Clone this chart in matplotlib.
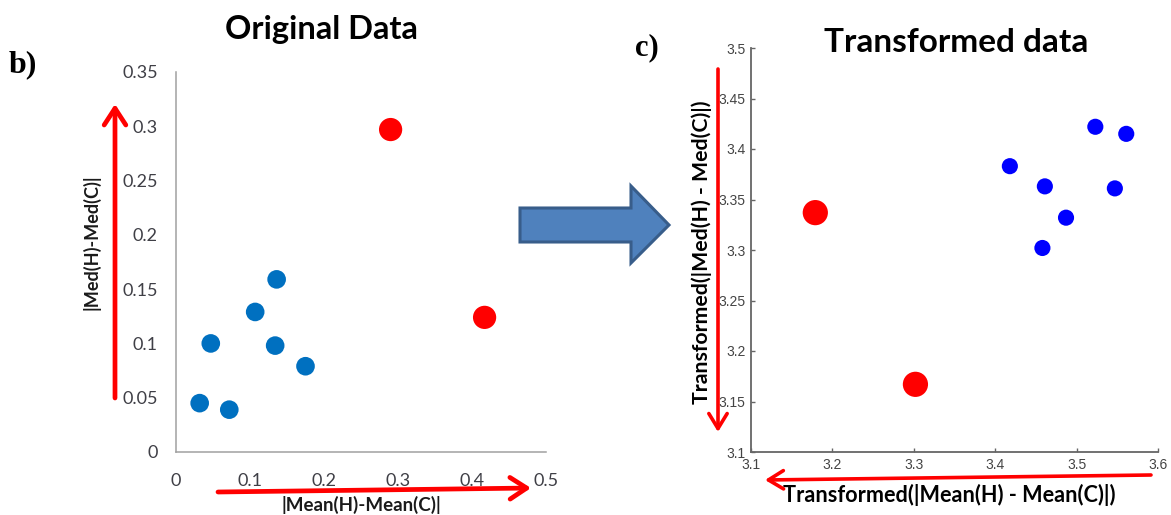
import numpy as np
import matplotlib
matplotlib.use("Agg")
import matplotlib.pyplot as plt
from matplotlib.patches import Polygon

# ---- data: panel b (original data) ----
orig_blue_x = [0.032, 0.072, 0.047, 0.107, 0.136, 0.134, 0.175]
orig_blue_y = [0.045, 0.039, 0.100, 0.129, 0.159, 0.098, 0.079]
orig_red_x = [0.290, 0.417]
orig_red_y = [0.297, 0.124]
orig_xticks = [0, 0.1, 0.2, 0.3, 0.4, 0.5]
orig_xlabels = ["0", "0.1", "0.2", "0.3", "0.4", "0.5"]
orig_yticks = [0, 0.05, 0.1, 0.15, 0.2, 0.25, 0.3, 0.35]
orig_ylabels = ["0", "0.05", "0.1", "0.15", "0.2", "0.25", "0.3", "0.35"]

# ---- data: panel c (transformed data) ----
trans_blue_x = [3.523, 3.561, 3.418, 3.461, 3.547, 3.487, 3.458]
trans_blue_y = [3.422, 3.415, 3.383, 3.363, 3.361, 3.332, 3.302]
trans_red_x = [3.179, 3.302]
trans_red_y = [3.337, 3.167]
trans_xticks = [3.1, 3.2, 3.3, 3.4, 3.5, 3.6]
trans_xlabels = ["3.1", "3.2", "3.3", "3.4", "3.5", "3.6"]
trans_yticks = [3.1, 3.15, 3.2, 3.25, 3.3, 3.35, 3.4, 3.45, 3.5]
trans_ylabels = ["3.1", "3.15", "3.2", "3.25", "3.3", "3.35", "3.4", "3.45", "3.5"]

W, H = 1171, 515
fig = plt.figure(figsize=(W / 100, H / 100), dpi=100)


def box(x0, y0, x1, y1):
    """pixel box (top-left origin) -> figure fraction rect"""
    return [x0 / W, 1 - y1 / H, (x1 - x0) / W, (y1 - y0) / H]


# ---- left panel, excel look ----
ax1 = fig.add_axes(box(176, 72, 546, 452))
ax1.scatter(orig_blue_x, orig_blue_y, s=180, color="#0070C0", edgecolors="none", zorder=3)
ax1.scatter(orig_red_x, orig_red_y, s=280, color="#FF0000", edgecolors="none", zorder=3)
ax1.set_xlim(0, 0.5)
ax1.set_ylim(0, 0.35)
ax1.set_xticks(orig_xticks)
ax1.set_xticklabels(orig_xlabels)
ax1.set_yticks(orig_yticks)
ax1.set_yticklabels(orig_ylabels)
for s in ["top", "right"]:
    ax1.spines[s].set_visible(False)
for s in ["left", "bottom"]:
    ax1.spines[s].set_color("#A0A0A0")
    ax1.spines[s].set_linewidth(1.1)
ax1.tick_params(length=0, pad=13, labelsize=13, labelcolor="#3F3F46")
ax1.tick_params(axis="x", pad=15)
for lab in ax1.get_xticklabels() + ax1.get_yticklabels():
    lab.set_family("Lato")

# ---- right panel, matlab look ----
ax2 = fig.add_axes(box(751, 48, 1158, 452))
ax2.scatter(trans_blue_x, trans_blue_y, s=135, color="#0000FF", edgecolors="none", zorder=3)
ax2.scatter(trans_red_x, trans_red_y, s=330, color="#FF0000", edgecolors="none", zorder=3)
ax2.set_xlim(3.1, 3.6)
ax2.set_ylim(3.1, 3.5)
ax2.set_xticks(trans_xticks)
ax2.set_xticklabels(trans_xlabels)
ax2.set_yticks(trans_yticks)
ax2.set_yticklabels(trans_ylabels)
for s in ["top", "right"]:
    ax2.spines[s].set_visible(False)
for s in ["left", "bottom"]:
    ax2.spines[s].set_color("#666666")
    ax2.spines[s].set_linewidth(1.3)
ax2.tick_params(direction="in", length=3, width=1, color="#666666",
                labelsize=10, labelcolor="#444444")
ax2.tick_params(axis="y", pad=4)
ax2.tick_params(axis="x", pad=4)
for lab in ax2.get_xticklabels() + ax2.get_yticklabels():
    lab.set_family("Liberation Sans")

# ---- overlay for titles, arrows, labels (pixel coords) ----
ov = fig.add_axes([0, 0, 1, 1])
ov.set_xlim(0, W)
ov.set_ylim(H, 0)
ov.axis("off")
ov.patch.set_alpha(0)

ov.text(321, 30, "Original Data", ha="center", va="center", fontsize=23.5,
        fontweight="bold", family="Lato")
ov.text(956, 43, "Transformed data", ha="center", va="center", fontsize=24,
        fontweight="bold", family="Lato")
ov.text(9, 72, "b)", ha="left", va="baseline", fontsize=23, fontweight="bold",
        family="Liberation Serif")
ov.text(635, 55, "c)", ha="left", va="baseline", fontsize=22, fontweight="bold",
        family="Liberation Serif")

ov.text(91, 242, "|Med(H)-Med(C)|", rotation=90, ha="center", va="center",
        fontsize=13, fontweight="bold", family="Lato", color="#1a1a1a")
ov.text(361, 505, "|Mean(H)-Mean(C)|", ha="center", va="center",
        fontsize=13.5, fontweight="bold", family="Lato", color="#1a1a1a")
ov.text(702, 252, "Transformed(|Med(H) - Med(C)|)", rotation=90, ha="center",
        va="center", fontsize=15.3, fontweight="bold", family="Lato")
ov.text(949, 495, "Transformed(|Mean(H) - Mean(C)|)", ha="center", va="center",
        fontsize=15.6, fontweight="bold", family="Lato")

red = "#FF0000"
arrow_thick = dict(arrowstyle="->,head_length=1.0,head_width=0.65", lw=3.4,
                   color=red, shrinkA=0, shrinkB=0, mutation_scale=12)
arrow_mid = dict(arrowstyle="->,head_length=0.9,head_width=0.55", lw=2.6,
                 color=red, shrinkA=0, shrinkB=0, mutation_scale=12)
ov.annotate("", xy=(115, 104), xytext=(115, 398), arrowprops=arrow_thick)
ov.annotate("", xy=(531, 488), xytext=(218, 492), arrowprops=arrow_thick)
ov.annotate("", xy=(718, 432), xytext=(718, 69), arrowprops=arrow_mid)
ov.annotate("", xy=(765, 480), xytext=(1151, 475), arrowprops=arrow_mid)

# big block arrow between the panels
blk = Polygon([(520, 208), (631, 208), (631, 186), (669, 225), (631, 263),
               (631, 242), (520, 242)], closed=True, facecolor="#4F81BD",
              edgecolor="#385D8A", lw=2.2)
ov.add_patch(blk)

fig.savefig("out.png", dpi=100)
